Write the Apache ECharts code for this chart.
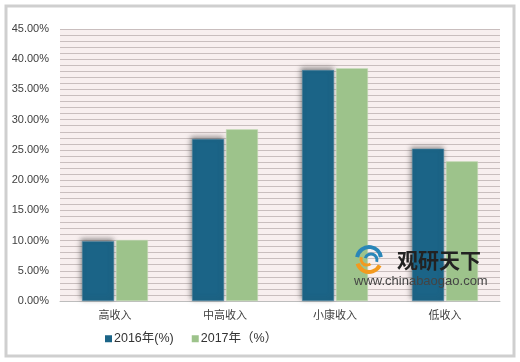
<!DOCTYPE html>
<html><head><meta charset="utf-8">
<script src="https://cdn.jsdelivr.net/npm/echarts@6/dist/echarts.min.js"></script>
<style>html,body{margin:0;padding:0;background:#fff}#c{width:520px;height:362px}</style>
</head><body><div id="c"></div>
<script>
const categories = ['高收入', '中高收入', '小康收入', '低收入'];
const seriesNames = ['2016年(%)', '2017年（%）'];
const values2016 = [9.9, 26.8, 38.2, 25.2];
const values2017 = [10.1, 28.4, 38.5, 23.1];
const chart = echarts.init(document.getElementById('c'));
const font = '"Liberation Sans", Arial, "Noto Sans CJK SC", sans-serif';
chart.setOption({
  animation: false,
  textStyle: { fontFamily: font },
  grid: { left: 60, right: 20, top: 29, bottom: 61, show: true, backgroundColor: '#f8efef', borderWidth: 0 },
  legend: {
    bottom: 12, left: 100, itemWidth: 7, itemHeight: 7, itemGap: 18, icon: 'rect',
    itemStyle: { borderWidth: 0 },
    textStyle: { fontSize: 12.5, color: '#333', fontFamily: font, padding: [0, 0, 0, -3] },
    data: seriesNames
  },
  xAxis: {
    type: 'category', data: categories,
    axisLine: { lineStyle: { color: '#bdbdbd', width: 1 } },
    axisTick: { show: false },
    axisLabel: { fontSize: 11, color: '#404040', margin: 9 }
  },
  yAxis: {
    type: 'value', min: 0, max: 45, interval: 5,
    axisLabel: { fontSize: 11, color: '#404040', margin: 11, formatter: v => v.toFixed(2) + '%' },
    axisLine: { show: false }, axisTick: { show: false },
    splitLine: { lineStyle: { color: '#c9bebe', width: 1 } },
    minorTick: { show: false, splitNumber: 5 },
    minorSplitLine: { show: true, lineStyle: { color: '#c9bebe', width: 1 } }
  },
  series: [
    { name: seriesNames[0], type: 'bar', data: values2016, barWidth: 32, barGap: '6%',
      itemStyle: { color: '#1b6487', borderColor: '#5b8ea8', borderWidth: 0.5, shadowColor: 'rgba(60,60,60,0.55)', shadowBlur: 5, shadowOffsetX: -1, shadowOffsetY: -2 } },
    { name: seriesNames[1], type: 'bar', data: values2017, barWidth: 32,
      itemStyle: { color: '#9dc38b', borderColor: '#c8dfbd', borderWidth: 0.5 } }
  ],
  graphic: [
    { type: 'rect', shape: { x: 6, y: 6, width: 508, height: 350 }, style: { fill: 'none', stroke: '#cfcfcf', lineWidth: 3 }, z: 10 },
    { type: 'arc', shape: { cx: 369, cy: 259, r: 12, startAngle: -Math.PI * 0.95, endAngle: -Math.PI * 0.05 }, style: { stroke: '#2a86b8', lineWidth: 4, fill: 'none' }, z: 20 },
    { type: 'arc', shape: { cx: 371, cy: 260, r: 6, startAngle: -Math.PI * 0.9, endAngle: Math.PI * 0.1 }, style: { stroke: '#2a86b8', lineWidth: 3, fill: 'none' }, z: 20 },
    { type: 'arc', shape: { cx: 369, cy: 260, r: 12, startAngle: Math.PI * 0.15, endAngle: Math.PI * 0.9 }, style: { stroke: '#f39a1e', lineWidth: 4, fill: 'none' }, z: 20 },
    { type: 'arc', shape: { cx: 367, cy: 259, r: 6, startAngle: Math.PI * 0.3, endAngle: Math.PI * 1.1 }, style: { stroke: '#f39a1e', lineWidth: 3, fill: 'none' }, z: 20 },
    { type: 'text', left: 397, top: 250, style: { text: '观研天下', fontSize: 21, fontWeight: 'bold', fill: '#222', fontFamily: '"Noto Sans CJK SC", sans-serif' }, z: 20 },
    { type: 'text', left: 354, top: 275, style: { text: 'www.chinabaogao.com', fontSize: 13, fill: '#444', fontFamily: font }, z: 20 }
  ]
});
</script></body></html>
